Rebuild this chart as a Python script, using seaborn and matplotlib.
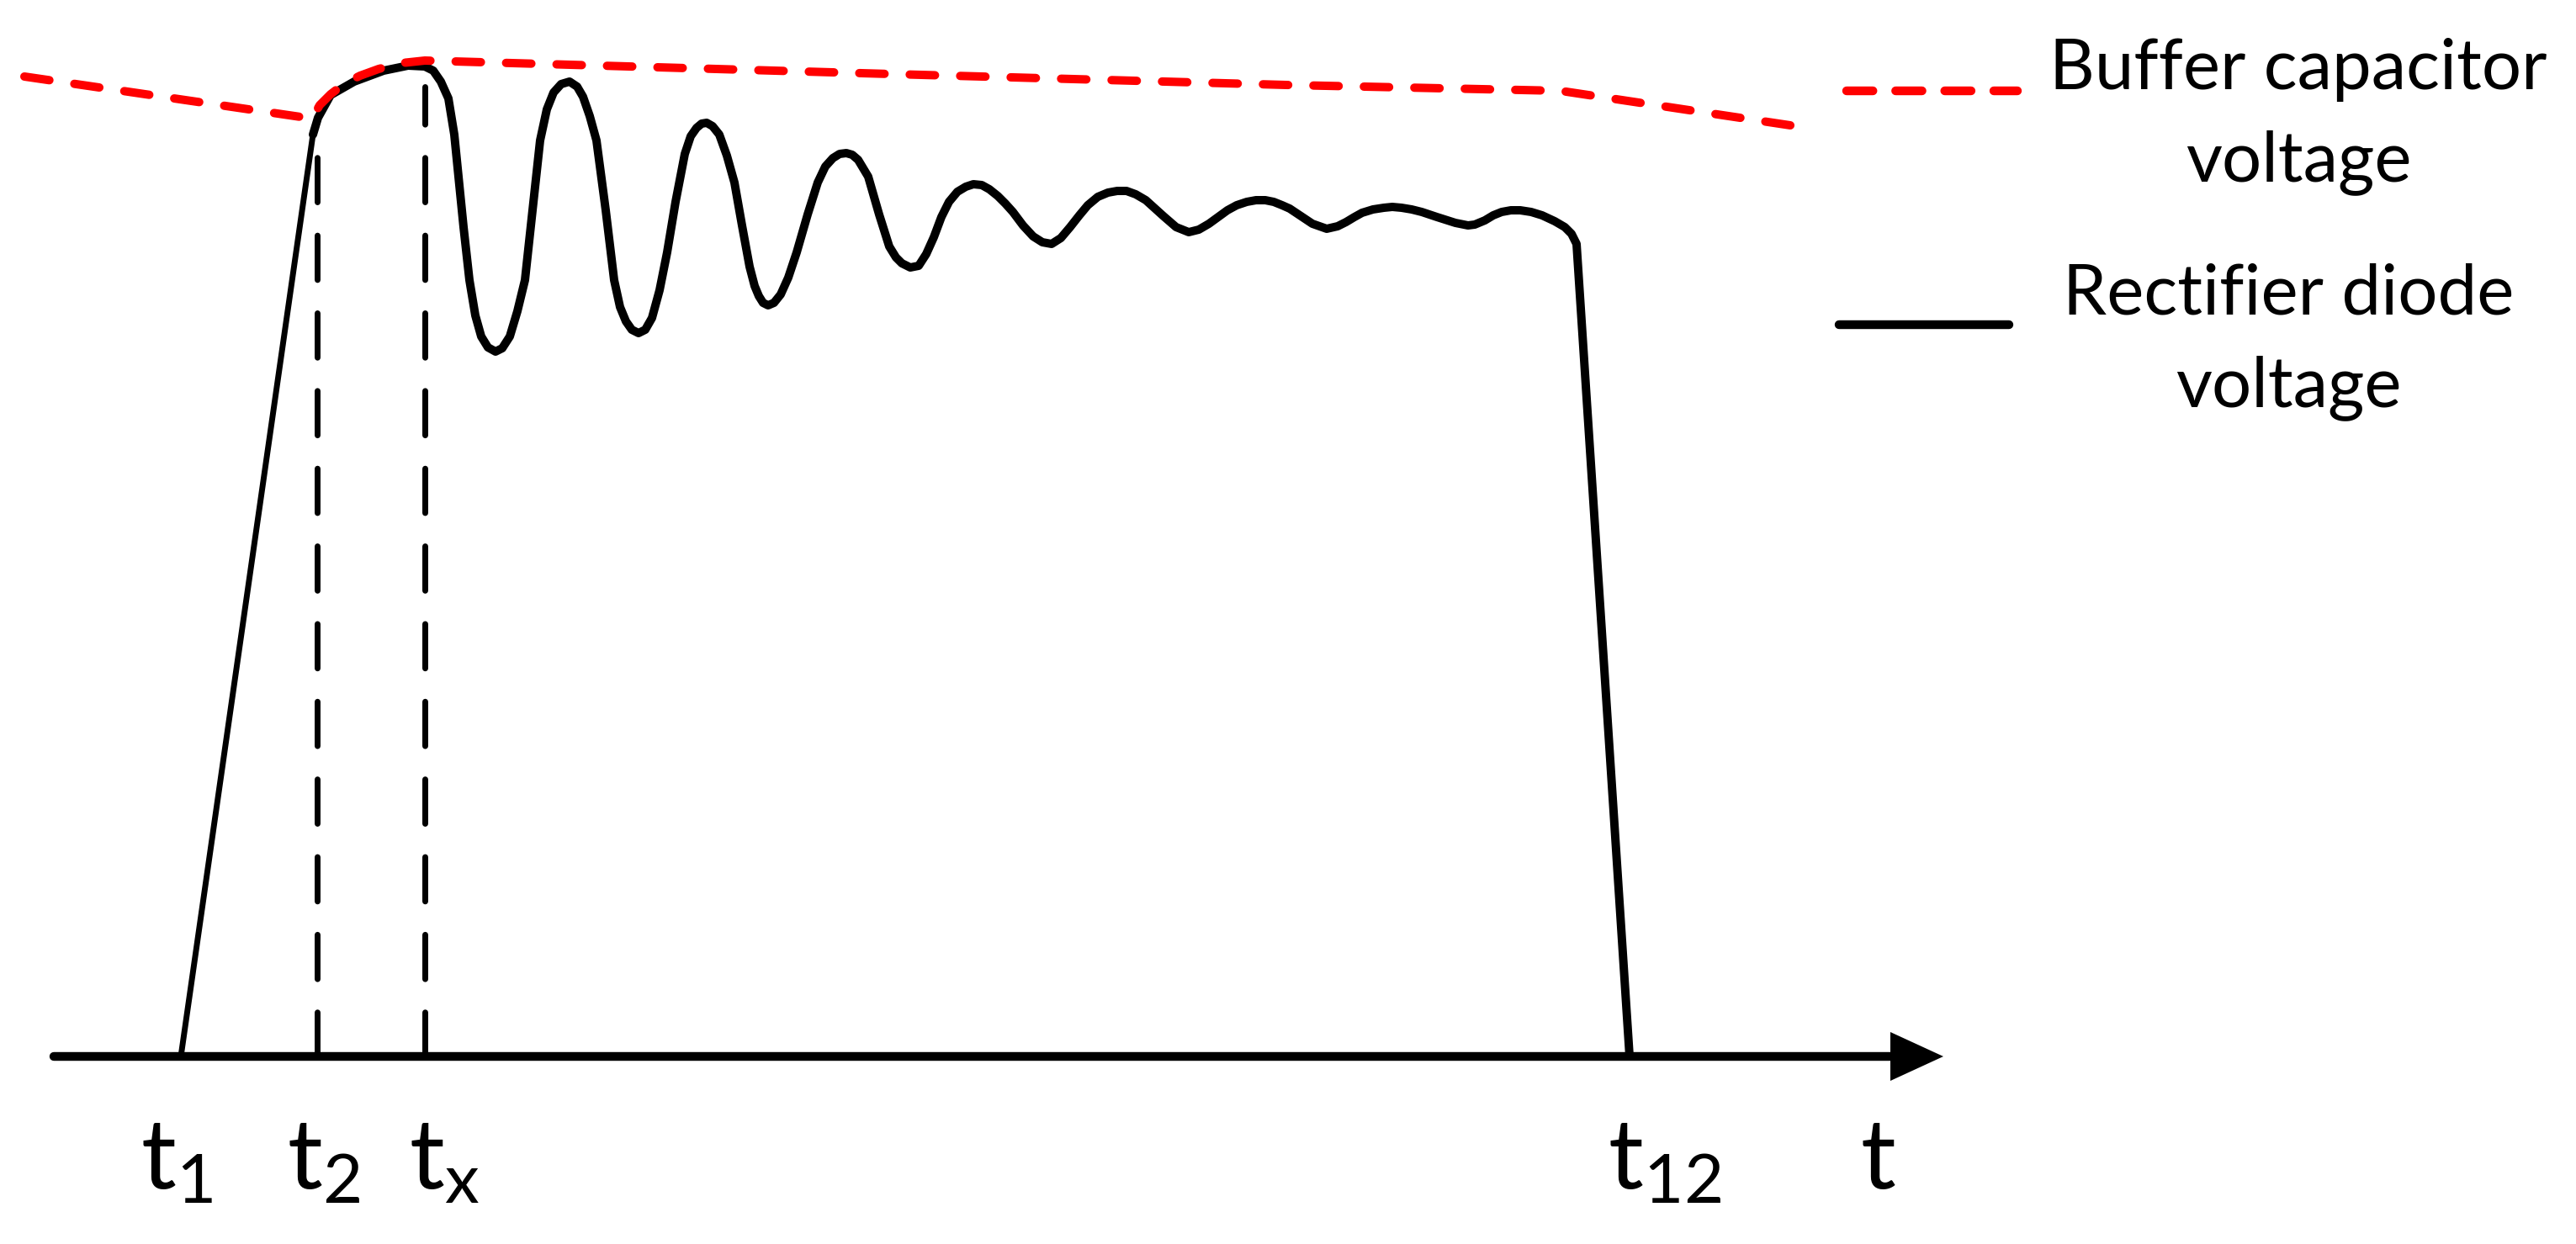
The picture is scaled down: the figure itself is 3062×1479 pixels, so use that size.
"""Buffer capacitor / rectifier diode voltage waveform sketch"""

import matplotlib
matplotlib.use("Agg")
import matplotlib.pyplot as plt
import pandas as pd
import seaborn as sns

# values (time and voltage in arbitrary units,
# voltage measured upward from the time axis)
rise_time = [215, 372]
rise_volt = [0, 1096]

diode_time = [372, 378, 393, 421, 456, 485, 505, 515, 524, 533, 540, 544, 551, 558, 565,
              572, 580, 589, 597, 606, 615, 624, 633, 642, 650, 658, 667, 677, 686, 693,
              701, 709, 720, 730, 737, 744, 751, 759, 767, 775, 784, 793, 803, 814, 821,
              828, 834, 840, 847, 855, 864, 873, 882, 891, 897, 902, 907, 913, 920, 928,
              937, 947, 960, 972, 981, 990, 998, 1006, 1013, 1020, 1032, 1045, 1057, 1065,
              1072, 1082, 1092, 1101, 1110, 1119, 1128, 1138, 1148, 1157, 1167, 1176, 1186,
              1195, 1204, 1216, 1228, 1239, 1250, 1261, 1272, 1283, 1293, 1305, 1317, 1328,
              1339, 1350, 1362, 1372, 1383, 1398, 1413, 1425, 1437, 1448, 1459, 1470, 1482,
              1493, 1504, 1514, 1524, 1533, 1542, 1560, 1577, 1590, 1600, 1610, 1619, 1632,
              1645, 1655, 1666, 1678, 1690, 1708, 1730, 1745, 1753, 1765, 1775, 1785, 1796,
              1807, 1820, 1833, 1848, 1860, 1868, 1874, 1937]
diode_volt = [1096, 1116, 1143, 1159, 1172, 1178, 1177, 1172, 1159, 1139, 1096, 1056, 986, 923, 881,
              856, 843, 838, 842, 856, 886, 923, 1006, 1089, 1126, 1146, 1156, 1159, 1153, 1141,
              1118, 1089, 1006, 923, 891, 874, 864, 860, 864, 878, 911, 956, 1016, 1073, 1094,
              1104, 1109, 1110, 1106, 1096, 1071, 1039, 988, 939, 916, 904, 896, 893, 896, 906,
              926, 956, 1001, 1039, 1058, 1068, 1073, 1074, 1072, 1066, 1046, 1001, 963, 950,
              943, 938, 940, 954, 974, 998, 1016, 1028, 1034, 1037, 1036, 1031, 1023,
              1014, 1004, 988, 975, 968, 966, 973, 986, 1000, 1012, 1022, 1027, 1029,
              1029, 1025, 1018, 1009, 999, 986, 980, 983, 990, 998, 1006, 1012, 1016,
              1018, 1018, 1016, 1012, 1008, 1002, 990, 984, 987, 992, 998, 1003, 1007,
              1009, 1010, 1009, 1007, 1004, 998, 991, 988, 989, 994, 1000, 1004, 1006,
              1006, 1004, 1000, 993, 986, 978, 966, 0]

cap_time = [29, 371, 380, 393, 410, 428, 450, 477, 505, 1059, 1529, 1855, 2148]
cap_volt = [1165, 1115, 1131, 1144, 1157, 1166, 1174, 1181, 1184, 1168, 1155, 1148, 1104]

marker_time = [377, 505]
marker_top = [1106, 1153]

tick_time = [210, 385, 528, 1979]
tick_labels = ["$\\mathregular{t_1}$", "$\\mathregular{t_2}$",
               "$\\mathregular{t_x}$", "$\\mathregular{t_{12}}$"]
axis_label = "t"

legend_lines = [["Buffer capacitor", "voltage"], ["Rectifier diode", "voltage"]]

RED = "#ff0000"
BLACK = "#000000"

sns.set_theme(style="white")
plt.rcParams["font.family"] = ["Lato", "DejaVu Sans"]
plt.rcParams["mathtext.fontset"] = "custom"
plt.rcParams["mathtext.rm"] = "Lato"

fig = plt.figure(figsize=(30.62, 14.79), dpi=100)
ax = fig.add_axes([0, 0, 1, 1])
ax.set_xlim(0, 3062)
ax.set_ylim(-223, 1256)
ax.axis("off")

# time axis with arrow head
axis_start, axis_end, head_len, head_half = 64, 2310, 63, 29
ax.plot([axis_start, axis_end - head_len], [0, 0], color=BLACK, lw=7.5,
        solid_capstyle="round")
ax.fill([axis_end - head_len, axis_end, axis_end - head_len],
        [head_half, 0, -head_half], color=BLACK, lw=0)

# dashed markers at t2 and tx
for t, top in zip(marker_time, marker_top):
    ax.plot([t, t], [0, top], color=BLACK, lw=5, linestyle=(0, (7.6, 5.7)),
            dash_capstyle="round")

rise = pd.DataFrame({"time": rise_time, "volt": rise_volt})
diode = pd.DataFrame({"time": diode_time, "volt": diode_volt})
cap = pd.DataFrame({"time": cap_time, "volt": cap_volt})

sns.lineplot(data=rise, x="time", y="volt", ax=ax, color=BLACK, lw=5,
             sort=False, estimator=None, solid_capstyle="round")
sns.lineplot(data=diode, x="time", y="volt", ax=ax, color=BLACK, lw=7.2,
             sort=False, estimator=None, solid_joinstyle="round",
             solid_capstyle="round")
sns.lineplot(data=cap, x="time", y="volt", ax=ax, color=RED, lw=7.2,
             sort=False, estimator=None, linestyle=(0, (3, 3)),
             dash_capstyle="round", dash_joinstyle="round")

# tick labels under the axis
for t, lab in zip(tick_time, tick_labels):
    ax.text(t, -157, lab, fontsize=84, ha="center", va="baseline", color=BLACK)
ax.text(2232, -157, axis_label, fontsize=84, ha="center", va="baseline", color=BLACK)

# legend drawn by hand on the right
ax.plot([2195, 2398], [1148, 1148], color=RED, lw=7.5, linestyle=(0, (3, 2.6)),
        dash_capstyle="round")
ax.plot([2186, 2388], [870, 870], color=BLACK, lw=7.5, solid_capstyle="round")

legend_x = [2732, 2720]
legend_baselines = [[1150, 1041], [883, 773]]
for x, lines, bases in zip(legend_x, legend_lines, legend_baselines):
    for line, base in zip(lines, bases):
        ax.text(x, base, line, fontsize=60, ha="center", va="baseline", color=BLACK)

plt.savefig("out.png", dpi=100)
